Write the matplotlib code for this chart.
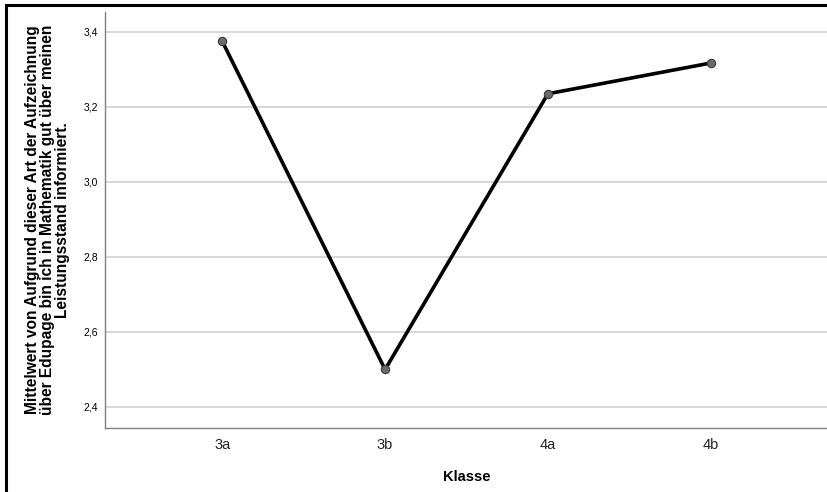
import matplotlib
matplotlib.use("Agg")
import matplotlib.pyplot as plt
from matplotlib.patches import Rectangle

klassen = ["3a", "3b", "4a", "4b"]
mittelwerte = [3.375, 2.50, 3.235, 3.317]
y_ticks = [2.4, 2.6, 2.8, 3.0, 3.2, 3.4]
y_tick_labels = ["2,4", "2,6", "2,8", "3,0", "3,2", "3,4"]

plt.rcParams["font.family"] = ["Liberation Sans", "DejaVu Sans"]

W, H = 828, 492
fig = plt.figure(figsize=(W / 100, H / 100), dpi=100)
ax = fig.add_axes([105 / W, (H - 428) / H, (W - 105) / W, (428 - 12) / H])

x = list(range(len(klassen)))
ax.plot(x, mittelwerte, color="black", lw=2.6, zorder=3,
        marker="o", markersize=6, markerfacecolor="#6b6b6b",
        markeredgecolor="#3a3a3a", markeredgewidth=0.8)

ax.set_xlim(-0.72, 3.72)
ax.set_ylim(2.344, 3.453)
ax.set_yticks(y_ticks)
ax.set_yticklabels(y_tick_labels, fontsize=7.5)
ax.set_xticks(x)
ax.set_xticklabels(klassen, fontsize=10.5, color="#222222")
ax.tick_params(axis="both", length=0)
ax.tick_params(axis="y", pad=5)
ax.tick_params(axis="x", pad=7)

ax.yaxis.grid(True, color="#d4d4d4", lw=1.3)
ax.set_axisbelow(True)
for s in ["top", "right"]:
    ax.spines[s].set_visible(False)
for s in ["left", "bottom"]:
    ax.spines[s].set_color("#808080")
    ax.spines[s].set_linewidth(1.0)

ax.set_xlabel("Klasse", fontsize=10.5, fontweight="bold", labelpad=13)
ax.set_ylabel("Mittelwert von Aufgrund dieser Art der Aufzeichnung\n"
              "über Edupage bin ich in Mathematik gut über meinen\n"
              "Leistungsstand informiert.",
              fontsize=11.2, fontweight="bold", linespacing=1.0, labelpad=10)

# outer frame
fig.patches.append(Rectangle((6 / W, -0.1), 1.2, (H - 5) / H + 0.1,
                             transform=fig.transFigure, fill=False,
                             edgecolor="black", lw=2.2, zorder=10))

fig.savefig("out.png", dpi=100)
